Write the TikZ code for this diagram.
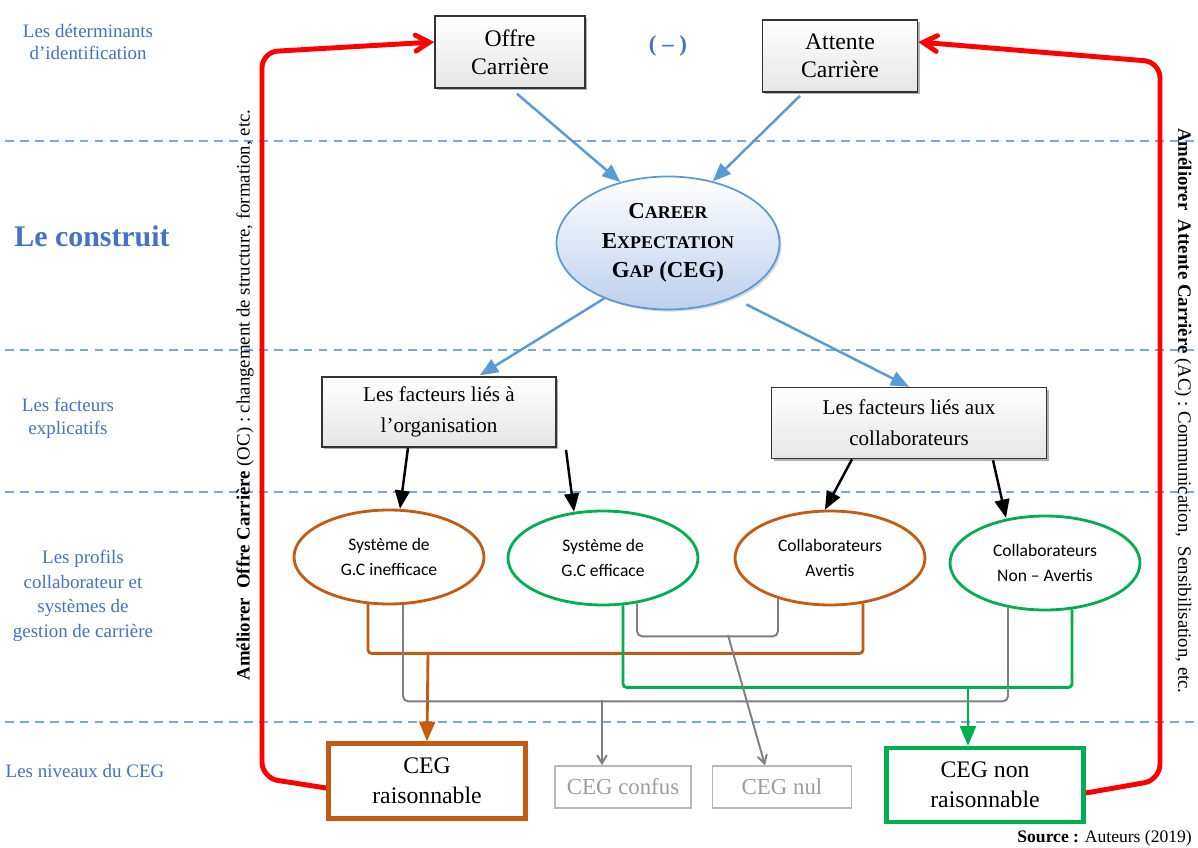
\documentclass[tikz,border=0pt]{standalone}
\usepackage{fontspec}
\setmainfont{Liberation Serif}
\newfontfamily\calib{Carlito}
\usetikzlibrary{arrows}
\usetikzlibrary{shapes.geometric, positioning, calc, shadows}
\usepackage{xcolor}
\definecolor{lblue}{HTML}{4472C4}
\definecolor{dblue}{HTML}{7BA7DB}
\definecolor{ablue}{HTML}{5B9BD5}
\definecolor{corange}{HTML}{C55A11}
\definecolor{cgreen}{HTML}{00B050}
\definecolor{cgray}{HTML}{7F7F7F}
\definecolor{cegfill}{HTML}{BDD0EC}
\newcommand{\scl}[1]{{\fontsize{10.2}{17}\selectfont #1}}

\begin{document}
\begin{tikzpicture}[x=0.02cm, y=-0.02cm,
    lbl/.style={text=lblue, align=center, font=\fontsize{10.8}{13}\selectfont},
    sep/.style={dblue, dash pattern=on 5pt off 3.5pt, line width=0.6pt},
    box/.style={draw=black!80, line width=0.9pt, top color=white, bottom color=black!10,
      drop shadow={shadow xshift=1.2pt, shadow yshift=-1.2pt, fill=black!60}, align=center, inner sep=0pt},
    prof/.style={ellipse, draw, line width=1.6pt, minimum width=3.8cm, minimum height=1.88cm,
      align=center, font=\calib\fontsize{10}{14}\selectfont},
    lvl/.style={draw, fill=white, align=center, inner sep=0pt},
    blarr/.style={ablue, line width=1.4pt, -triangle 45},
    bkarr/.style={black, line width=1.4pt, -triangle 45},
    redarr/.style={red, line width=2.8pt, -angle 60, rounded corners=9pt},
    grline/.style={cgray, line width=1.1pt, rounded corners=3pt},
    orline/.style={corange, line width=1.6pt, rounded corners=2pt},
    gnline/.style={cgreen, line width=1.6pt, rounded corners=2pt}]

  \useasboundingbox[fill=white] (0,0) rectangle (1198,848);

  \foreach \y in {141,350,492,722}
    \draw[sep] (5,\y) -- (1198,\y);

  \node[lbl] (l1) at (88,42) {Les déterminants\\d’identification};
  \node[text=lblue, font=\bfseries\fontsize{17}{20}\selectfont] (l2) at (92,236) {Le construit};
  \node[lbl] (l3) at (68,418) {Les facteurs\\explicatifs};
  \node[lbl, font=\fontsize{10.8}{14}\selectfont] (l4) at (83,596) {Les profils\\collaborateur et\\systèmes de\\gestion de carrière};
  \node[lbl] (l5) at (85,771) {Les niveaux du CEG};

  \node[box, minimum width=3cm, minimum height=1.44cm, font=\fontsize{13.5}{16}\selectfont] (oc) at (510,52) {Offre\\Carrière};
  \node[box, minimum width=3.1cm, minimum height=1.44cm, font=\fontsize{13.5}{16}\selectfont] (ac) at (840,56) {Attente\\Carrière};
  \node[text=lblue, font=\bfseries\fontsize{13}{15}\selectfont] (neg) at (668,46) {( – )};

  \node[ellipse, draw=ablue, line width=1pt, top color=white, bottom color=cegfill,
    drop shadow={shadow xshift=1.2pt, shadow yshift=-1.2pt, fill=black!30},
    minimum width=4.46cm, minimum height=2.66cm, align=center,
    font=\bfseries\fontsize{13}{17}\selectfont] (ceg) at (668,243)
    {C\scl{AREER}\\E\scl{XPECTATION}\\G\scl{AP} (CEG)};

  \node[box, minimum width=4.68cm, minimum height=1.4cm, font=\fontsize{12}{17.5}\selectfont] (org) at (439,412) {Les facteurs liés à\\l’organisation};
  \node[box, minimum width=5.5cm, minimum height=1.42cm, font=\fontsize{12}{17.5}\selectfont] (col) at (909,423) {Les facteurs liés aux\\collaborateurs};

  \node[prof, draw=corange] (e1) at (389,557) {Système de\\G.C inefficace};
  \node[prof, draw=cgreen] (e2) at (603,558) {Système de\\G.C efficace};
  \node[prof, draw=corange] (e3) at (830,558) {Collaborateurs\\Avertis};
  \node[prof, draw=cgreen] (e4) at (1045,563) {Collaborateurs\\Non – Avertis};

  \node[lvl, draw=corange, line width=2.6pt, minimum width=3.94cm, minimum height=1.5cm,
    drop shadow={shadow xshift=1pt, shadow yshift=-1pt, fill=black!50},
    font=\fontsize{13.5}{17}\selectfont] (raison) at (427,781) {CEG\\raisonnable};
  \node[lvl, draw=black!28, text=black!38, line width=0.8pt, minimum width=2.72cm, minimum height=0.84cm,
    font=\fontsize{13}{15}\selectfont] (confus) at (623,787) {CEG confus};
  \node[lvl, draw=black!28, text=black!38, line width=0.8pt, minimum width=2.78cm, minimum height=0.84cm,
    font=\fontsize{13}{15}\selectfont] (nul) at (782,787) {CEG nul};
  \node[lvl, draw=cgreen, line width=2.6pt, minimum width=3.94cm, minimum height=1.48cm,
    drop shadow={shadow xshift=1pt, shadow yshift=-1pt, fill=black!50},
    font=\fontsize{13.5}{17}\selectfont] (nonr) at (985,785) {CEG non\\raisonnable};

  \node[rotate=90, font=\fontsize{10.7}{12}\selectfont] (vl) at (245,395)
    {\textbf{Améliorer~~Offre Carrière} (OC) : changement de structure, formation, etc.};
  \node[rotate=-90, font=\fontsize{10.7}{12}\selectfont] (vr) at (1183,411)
    {\textbf{Améliorer~~Attente Carrière} (AC) : Communication,~~Sensibilisation, etc.};

  \node[anchor=east, font=\fontsize{10}{12}\selectfont] (src) at (1198,838) {\textbf{Source :} Auteurs (2019)};

  \draw[blarr] ($(oc.south)+(7,5)$) -- (ceg.128);
  \draw[blarr] ($(ac.south)+(-40,3)$) -- (ceg.54);
  \draw[blarr] (ceg.-139) -- ($(org.north)+(41,-1)$);
  \draw[blarr] ($(ceg.-38)+(10,8)$) -- (col.north);

  \draw[bkarr] ($(org.south)+(-31,0)$) -- ($(e1.north)+(11,0)$);
  \draw[bkarr] ($(org.south)+(127,2)$) -- ($(e2.north)+(-29,2)$);
  \draw[bkarr] ($(col.south)+(-57,0)$) -- ($(e3.north)+(-5,0)$);
  \draw[bkarr] ($(col.south)+(84,1)$) -- ($(e4.north)+(-39,3)$);

  \draw[orline] ($(e1.south)+(-21,-2)$) -- ++(0,50) -| ($(e3.south)+(33,-3)$);
  \coordinate (oj) at (428,652);
  \draw[orline, -triangle 45, rounded corners=0pt] (oj) -- (raison.north);

  \draw[gnline] ($(e2.south)+(20,-1)$) -- ++(0,82) -| ($(e4.south)+(27,-2)$);
  \coordinate (gj) at (968,686);
  \draw[gnline, -triangle 45, rounded corners=0pt] (gj) -- (gj |- nonr.north);

  \draw[grline] ($(e1.south)+(14,-1)$) -- ++(0,97) -| ($(e4.south)+(-37,-4)$);
  \coordinate (gk) at (602,700);
  \draw[grline, -angle 60] (gk) -- (gk |- confus.north);

  \draw[grline] ($(e2.south)+(34,-3)$) -- ++(0,33) -| ($(e3.south)+(-52,-8)$);
  \coordinate (gn) at (728,635);
  \draw[grline, -angle 60] (gn) -- ($(nul.north)+(-17,0)$);

  \coordinate (lb) at (262,778);
  \coordinate (lt) at (262,52);
  \draw[redarr] ($(raison.west)+(0,7)$) -- (lb) -- (lt) -- ($(oc.west)+(0,-10)$);
  \coordinate (rb) at (1160,780);
  \coordinate (rt) at (1160,62);
  \draw[redarr] ($(nonr.east)+(0,8)$) -- (rb) -- (rt) -- ($(ac.east)+(0,-14)$);

\end{tikzpicture}
\end{document}
